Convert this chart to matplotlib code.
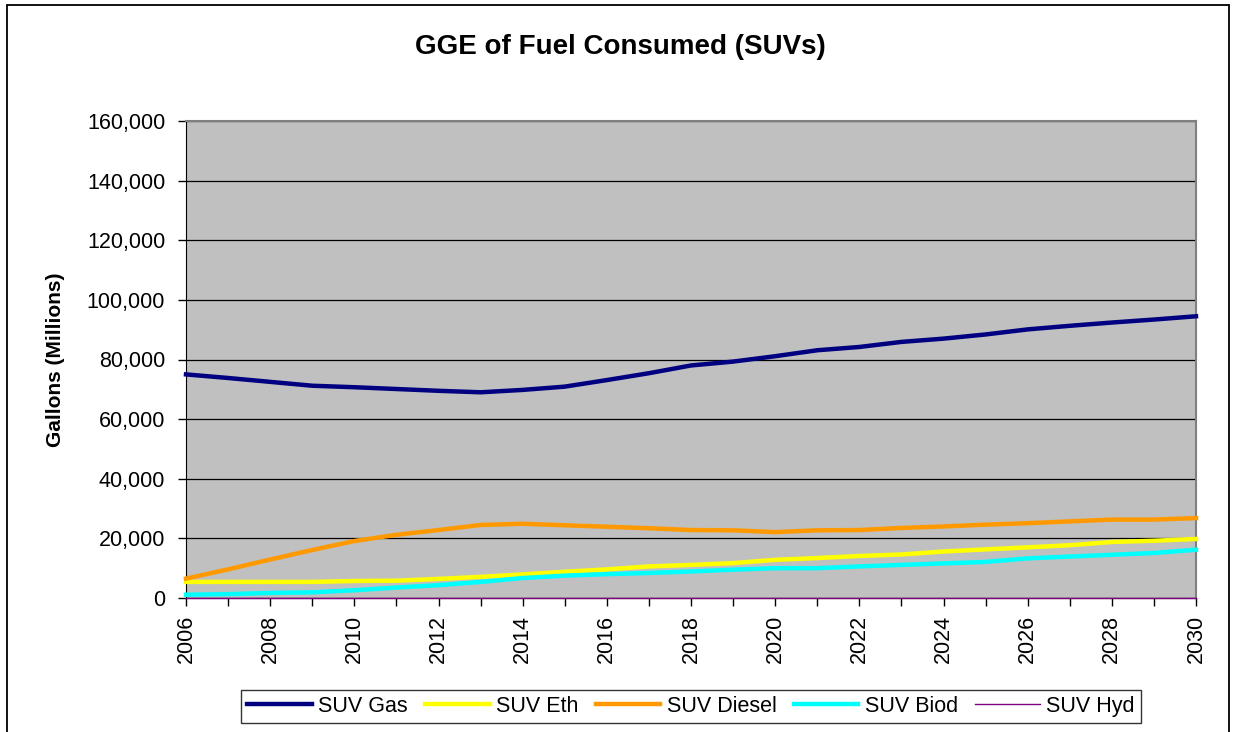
import numpy as np
import matplotlib
matplotlib.use("Agg")
import matplotlib.pyplot as plt
from matplotlib.ticker import FuncFormatter
from matplotlib.patches import Rectangle

plt.rcParams['font.family'] = ['Liberation Sans', 'DejaVu Sans']

# Dane (mln galonów GGE)
lata = list(range(2006, 2031))
suv_gas = [75000, 73800, 72500, 71200, 70700, 70100, 69500, 69000, 69800, 70900,
           73100, 75400, 78000, 79300, 81100, 83100, 84200, 85900, 87000, 88400,
           90100, 91300, 92400, 93400, 94500]
suv_eth = [5400, 5400, 5400, 5400, 5700, 5800, 6400, 7100, 7900, 8800,
           9600, 10600, 11100, 11700, 12800, 13400, 14100, 14600, 15600, 16300,
           17000, 17700, 18800, 19200, 19800]
suv_diesel = [6500, 9600, 12900, 16100, 19100, 21200, 22800, 24500, 24900, 24400,
              23900, 23400, 22800, 22700, 22100, 22700, 22800, 23500, 24000, 24600,
              25100, 25700, 26300, 26300, 26800]
suv_biod = [1100, 1300, 1700, 1900, 2600, 3500, 4300, 5400, 6700, 7500,
            8000, 8400, 8900, 9500, 10000, 10000, 10600, 11100, 11600, 12100,
            13300, 13900, 14500, 15100, 16200]
suv_hyd = [0, 0, 0, 0, 0, 0, 0, 0, 0, 0, 0, 0, 0, 0, 0, 0, 0, 0, 0, 0, 0, 0, 0, 0, 0]

fig = plt.figure(figsize=(12.35, 7.32), dpi=100)
ax = fig.add_axes([186 / 1235, 1 - 598 / 732, 1010 / 1235, 477 / 732])
ax.set_facecolor('#C0C0C0')

# ramka wokół całego wykresu
fig.patches.append(Rectangle((7 / 1235, -0.05), 1222 / 1235, 1.05 - 5 / 732,
                             transform=fig.transFigure, fill=False,
                             edgecolor='black', linewidth=1.3))

ax.plot(lata, suv_gas, color='#000080', linewidth=3.2, label='SUV Gas', clip_on=False, zorder=3)
ax.plot(lata, suv_eth, color='#FFFF00', linewidth=3.2, label='SUV Eth', clip_on=False, zorder=3)
ax.plot(lata, suv_diesel, color='#FF9900', linewidth=3.2, label='SUV Diesel', clip_on=False, zorder=3)
ax.plot(lata, suv_biod, color='#00FFFF', linewidth=3.2, label='SUV Biod', clip_on=False, zorder=3)
ax.plot(lata, suv_hyd, color='#800080', linewidth=1.0, label='SUV Hyd', clip_on=False, zorder=4)

ax.set_xlim(2006, 2030)
ax.set_ylim(0, 160000)
ax.set_yticks(np.arange(0, 160001, 20000))
ax.yaxis.set_major_formatter(FuncFormatter(lambda v, p: f'{int(v):,}'))
ax.set_xticks(lata)
ax.set_xticklabels([str(r) if r % 2 == 0 else '' for r in lata], rotation=90)
ax.tick_params(axis='y', direction='out', length=6, width=1, pad=9, labelsize=15.5)
ax.tick_params(axis='x', direction='out', length=6, width=1, pad=6, labelsize=15.5)

ax.grid(True, axis='y', color='black', linewidth=0.9)
ax.set_axisbelow(True)
for s in ['top', 'right']:
    ax.spines[s].set_color('#808080')
    ax.spines[s].set_linewidth(1.5)
ax.spines['left'].set_color('black')
ax.spines['bottom'].set_color('black')

ax.set_ylabel('Gallons (Millions)', fontsize=15, fontweight='bold', labelpad=16)
fig.text(0.502, 0.936, 'GGE of Fuel Consumed (SUVs)', ha='center', va='center',
         fontsize=20, fontweight='bold')

leg = fig.legend(loc='center', bbox_to_anchor=(691 / 1235, 1 - 706.5 / 732), ncol=5,
                 fontsize=15.5, frameon=True, fancybox=False, edgecolor='black',
                 handlelength=3.0, handletextpad=0.3, columnspacing=0.8,
                 borderpad=0.3, borderaxespad=0)
leg.get_frame().set_linewidth(1.0)

fig.savefig('out.png', dpi=100)
